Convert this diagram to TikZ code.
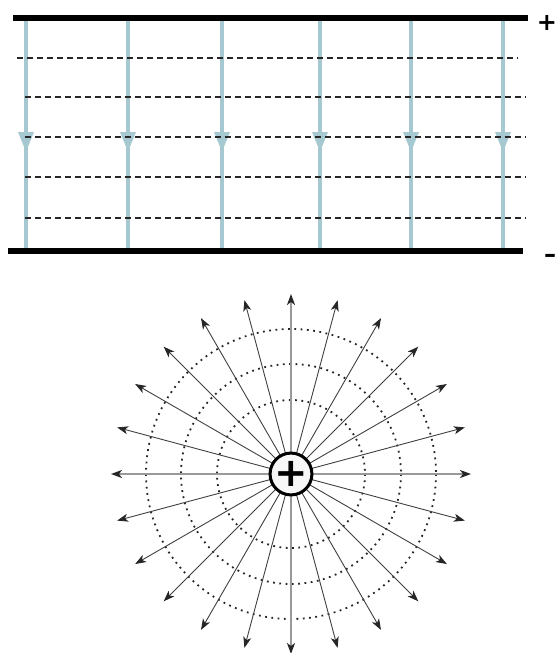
\documentclass[tikz,border=0pt]{standalone}
\usepackage{fontspec}
\newfontfamily\signfont{DejaVu Sans}
\usetikzlibrary{arrows.meta,calc}
\definecolor{fieldblue}{HTML}{A6C9D1}
\begin{document}
\begin{tikzpicture}[x=1pt,y=-1pt,
  plate/.style={line width=6.5pt, draw=black},
  equip/.style={dash pattern=on 6pt off 4pt, line width=1.9pt, draw=black!85},
  fieldline/.style={draw=fieldblue, line width=3.4pt},
  fieldhead/.style={fieldline, -{Triangle[length=20pt,width=15pt]}},
  radial/.style={-{Stealth[length=11pt,width=8pt,inset=3pt,color=black!85]}, line width=0.9pt, draw=black!75},
  axial/.style={radial, draw=black!40, line width=1.7pt},
  eqcircle/.style={dash pattern=on 1.8pt off 4.5pt, line width=1.8pt, draw=black!85},
  signlabel/.style={font=\signfont\bfseries\fontsize{24}{24}\selectfont, inner sep=0pt},
  charge/.style={circle, draw=black, line width=3pt, fill=black!3, minimum size=41pt, inner sep=0pt,
    font=\signfont\bfseries\fontsize{40}{40}\selectfont}
]
\useasboundingbox (0,0) rectangle (556,653);

% ---------- parallel plates ----------
\coordinate (tl) at (13,18);
\coordinate (tr) at (528,18);
\coordinate (bl) at (8,251);
\coordinate (br) at (523,251);

% field lines (blue, arrow in the middle)
\foreach \x [count=\i] in {26,128,222,320,411,503} {
  \coordinate (ft\i) at (\x,21);
  \coordinate (fm\i) at (\x,152);
  \coordinate (fc\i) at (\x,140);
  \coordinate (fb\i) at (\x,248);
  \draw[fieldhead] (ft\i) -- (fm\i);
  \draw[fieldline] (fc\i) -- (fb\i);
}

% equipotential lines
\coordinate (e1a) at (17,58);  \coordinate (e1b) at (518,58);
\draw[equip] (e1a) -- (e1b);
\foreach \y [count=\i from 2] in {97,137,177,218} {
  \coordinate (e\i a) at (25,\y);
  \coordinate (e\i b) at (526,\y);
  \draw[equip] (e\i a) -- (e\i b);
}

\draw[plate] (tl) -- (tr);
\draw[plate] (bl) -- (br);
\node[signlabel] (plus) at (547,23) {+};
\node[signlabel] (minus) at (550,258) {–};

% ---------- point charge ----------
\coordinate (c) at (291,474);
\foreach \r in {74,110,145} \draw[eqcircle] (c) circle[radius=\r];
\foreach \a in {15,30,45,60,75,105,120,135,150,165,195,210,225,240,255,285,300,315,330,345} {
  \coordinate (t\a) at ($(c)+(\a:180pt)$);
  \draw[radial] ($(c)+(\a:20pt)$) -- (t\a);
}
\foreach \a in {0,90,180,270} {
  \coordinate (t\a) at ($(c)+(\a:180pt)$);
  \draw[axial] ($(c)+(\a:20pt)$) -- (t\a);
}
\node[charge] (q) at (c) {+};
\end{tikzpicture}
\end{document}
